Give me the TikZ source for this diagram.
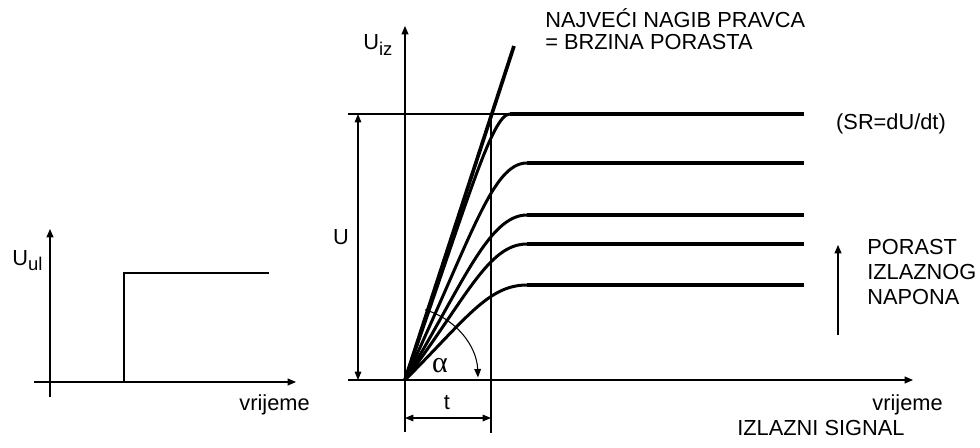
\documentclass[tikz,border=0pt]{standalone}
\usepackage{fontspec}
\setmainfont{Liberation Sans}
\newfontfamily\grkfont{Liberation Serif}
\usetikzlibrary{arrows.meta}
\tikzset{
  axis/.style={-{Triangle[length=4.8pt,width=4pt]}, line width=0.6pt},
  dimarr/.style={{Triangle[length=4.8pt,width=3.8pt]}-{Triangle[length=4.8pt,width=3.8pt]}, line width=0.6pt},
  guide/.style={line width=0.6pt},
  resp/.style={line width=1.7pt, line cap=round},
  level/.style={line width=2.1pt},
  slope/.style={line width=2.1pt},
  lab/.style={font=\fontsize{12.4}{14.2}\selectfont, inner sep=0pt},
}

\begin{document}
\begin{tikzpicture}[x=0.02cm,y=0.02cm]
\useasboundingbox (0,0) rectangle (980,447);

% ============ input step U_ul ==============================================
\coordinate (iy0) at (50,50);
\coordinate (iy1) at (50,218);
\coordinate (ix0) at (34,65);
\coordinate (ix1) at (296,65);
\draw[axis] (iy0) -- (iy1);
\draw[axis] (ix0) -- (ix1);
\coordinate (st0) at (124,65);
\coordinate (st1) at (124,174);
\coordinate (st2) at (269,174);
\draw[guide] (st0) -- (st1) -- (st2);
\node[lab, anchor=base west] (Uul) at (12,182) {U\raisebox{-0.45ex}{\fontsize{10.5}{12}\selectfont ul}};
\node[lab, anchor=base east] (tin) at (310,37) {vrijeme};

% ============ output responses U_iz ========================================
\coordinate (O) at (405,67);
\coordinate (oy0) at (405,15);
\coordinate (oy1) at (405,421);
\coordinate (ox0) at (348,67);
\coordinate (ox1) at (913,67);
\draw[axis] (oy0) -- (oy1);
\draw[axis] (ox0) -- (ox1);
\node[lab, anchor=base west] (Uiz) at (363,397) {U\raisebox{-0.45ex}{\fontsize{10.5}{12}\selectfont iz}};
% top level guide and t marker
\coordinate (gl0) at (348,333);
\coordinate (gl1) at (510,333);
\draw[guide] (gl0) -- (gl1);
\coordinate (tm0) at (491,333);
\coordinate (tm1) at (491,14);
\draw[guide] (tm0) -- (tm1);
% dimensions U and t
\coordinate (du0) at (358,333);
\coordinate (du1) at (358,67);
\draw[dimarr] (du0) -- (du1);
\node[lab] (U) at (341,210) {U};
\coordinate (dt0) at (405,29);
\coordinate (dt1) at (491,29);
\draw[dimarr] (dt0) -- (dt1);
\node[lab] (t) at (447,44) {t};
% steepest slope line
\coordinate (sl) at (514,401);
\draw[slope] (O) -- (sl);
% responses
\foreach \ax/\ay/\bx/\ex/\yy in {468/247/492/510/333, 472/210/492/527/284,
    462/160/488/527/232, 466/148/488/527/203, 466/128/488/527/162}{
  \draw[resp] (O) .. controls (\ax,\ay) and (\bx,\yy) .. (\ex,\yy);
  \draw[level] (\ex,\yy) -- (804,\yy);}
% angle alpha
\draw[guide, -{Triangle[length=4.8pt,width=3.8pt]}] ([shift={(74:73)}]O) arc[start angle=74, end angle=2, radius=73];
\node[lab, font=\fontsize{17}{17}\selectfont] (alpha) at (440,81) {\grkfont α};
% texts
\node[lab, anchor=base west, align=left, font=\fontsize{12.4}{12.6}\selectfont] (nagib) at (545,397)
  {NAJVEĆI NAGIB PRAVCA\\= BRZINA PORASTA};
\node[lab] (sr) at (891,323) {(SR=dU/dt)};
\coordinate (pa0) at (838,112);
\coordinate (pa1) at (838,202);
\draw[axis] (pa0) -- (pa1);
\node[lab, anchor=base west, align=left] (porast) at (867,143)
  {PORAST\\IZLAZNOG\\NAPONA};
\node[lab, anchor=base east] (tout) at (943,37) {vrijeme};
\node[lab, anchor=base west] (izl) at (737,12) {IZLAZNI SIGNAL};

\end{tikzpicture}
\end{document}
